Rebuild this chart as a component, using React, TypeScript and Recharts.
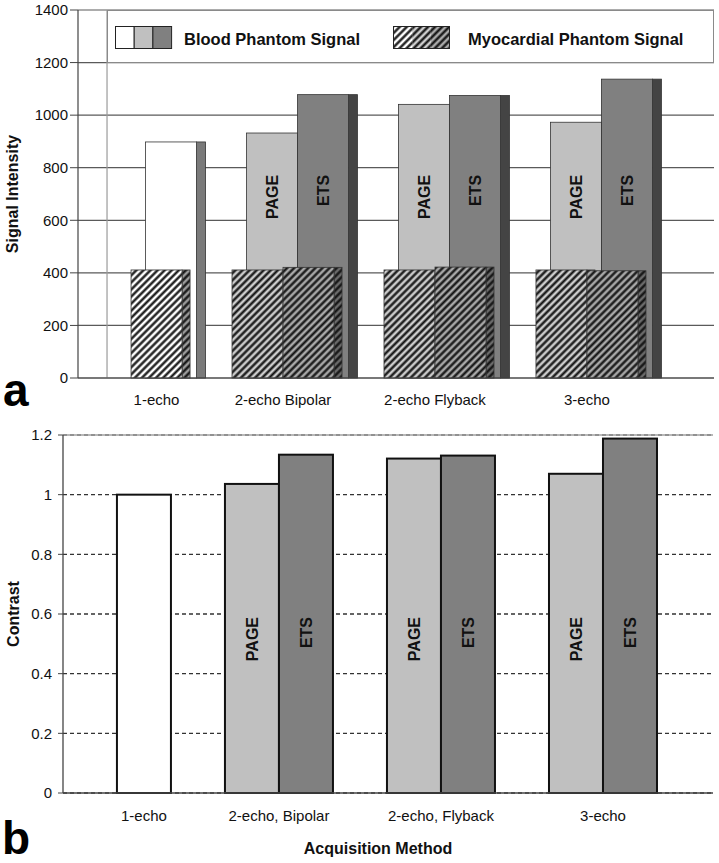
import { BarChart, Bar, XAxis, YAxis, CartesianGrid, Legend, ReferenceLine } from 'recharts'

const FONT = '"Liberation Sans", Arial, Helvetica, sans-serif'

const signalCategories = ['1-echo', '2-echo Bipolar', '2-echo Flyback', '3-echo']
const contrastCategories = ['1-echo', '2-echo, Bipolar', '2-echo, Flyback', '3-echo']

// 1-echo has a single acquisition, the others compare PAGE vs ETS
const bloodOneEcho = [898, null, null, null]
const bloodPage = [null, 932, 1041, 973]
const bloodEts = [null, 1078, 1075, 1137]
const myoOneEcho = [411, null, null, null]
const myoPage = [null, 411, 411, 411]
const myoEts = [null, 421, 422, 408]

const contrastOneEcho = [1.0, null, null, null]
const contrastPage = [null, 1.036, 1.121, 1.07]
const contrastEts = [null, 1.134, 1.131, 1.188]

const signalTicks = [0, 200, 400, 600, 800, 1000, 1200, 1400]
const contrastTicks = [0, 0.2, 0.4, 0.6, 0.8, 1, 1.2]
const catTicks = [0, 1, 2, 3]

// where the rotated PAGE / ETS labels end (in data units)
const SIGNAL_LABEL_AT = 773
const CONTRAST_LABEL_AT = 0.59

// numeric category axes, myocardial layer sits in front of the blood layer
const SIGNAL_DOMAIN: [number, number] = [-0.349, 3.836]
const DEPTH = 0.095
const BLOOD_DOMAIN: [number, number] = [SIGNAL_DOMAIN[0] - DEPTH, SIGNAL_DOMAIN[1] - DEPTH]
const WALL = -0.158
const CONTRAST_DOMAIN: [number, number] = [-0.333, 3.679]

const WHITE = '#ffffff'
const LIGHT = '#c0c0c0'
const DARK = '#808080'
const SIDE = 9
const SIGNAL_BAR = 51
const CONTRAST_BAR = 54

const signalRows = signalCategories.map((name, i) => {
  const single = bloodPage[i] == null
  return {
    pos: i,
    name,
    single,
    bloodL: bloodPage[i],
    bloodR: single ? bloodOneEcho[i] : bloodEts[i],
    myoL: myoPage[i],
    myoR: single ? myoOneEcho[i] : myoEts[i],
  }
})

const contrastRows = contrastCategories.map((name, i) => {
  const single = contrastPage[i] == null
  return {
    pos: i,
    name,
    single,
    left: contrastPage[i],
    right: single ? contrastOneEcho[i] : contrastEts[i],
  }
})

function Hatch({ id, bg }: { id: string; bg: string }) {
  return (
    <pattern id={id} patternUnits="userSpaceOnUse" width={5} height={5} patternTransform="rotate(45)">
      <rect width={5} height={5} fill={bg} />
      <line x1={2.5} y1={0} x2={2.5} y2={5} stroke="#111" strokeWidth={2.3} />
    </pattern>
  )
}

function rotatedLabel(text: string, cx: number, y: number) {
  return (
    <text
      transform={`translate(${cx},${y}) rotate(-90)`}
      textAnchor="end"
      dy="0.36em"
      fontSize={16}
      fontWeight="bold"
      fill="#111"
    >
      {text}
    </text>
  )
}

function solid3D(p: any, slot: 'L' | 'R') {
  const { x, y, width, height, payload } = p
  const v = slot === 'L' ? payload.bloodL : payload.bloodR
  if (v == null || !(height > 0)) return null
  const face = payload.single ? WHITE : slot === 'L' ? LIGHT : DARK
  const side = payload.single ? '#7a7a7a' : slot === 'L' ? '#9a9a9a' : '#444'
  const label = payload.single ? null : slot === 'L' ? 'PAGE' : 'ETS'
  const ly = y + height - (height * SIGNAL_LABEL_AT) / v
  return (
    <g>
      <rect x={x + width} y={y} width={SIDE} height={height} fill={side} stroke="#333" strokeWidth={0.8} />
      <rect x={x} y={y} width={width} height={height} fill={face} stroke="#333" strokeWidth={0.8} />
      {label && rotatedLabel(label, x + width / 2 + 0.5, ly)}
    </g>
  )
}

function hatch3D(p: any, slot: 'L' | 'R') {
  const { x, y, width, height, payload } = p
  const v = slot === 'L' ? payload.myoL : payload.myoR
  if (v == null || !(height > 0)) return null
  const face = payload.single ? 'url(#hatchWhite)' : slot === 'L' ? 'url(#hatchLight)' : 'url(#hatchMid)'
  const side = slot === 'R' && !payload.single ? 'url(#hatchSideDark)' : 'url(#hatchSideLight)'
  return (
    <g>
      <rect x={x + width} y={y} width={SIDE - 1} height={height} fill={side} stroke="#333" strokeWidth={0.8} />
      <rect x={x} y={y} width={width} height={height} fill={face} stroke="#333" strokeWidth={0.8} />
    </g>
  )
}

function flatBar(p: any, slot: 'L' | 'R') {
  const { x, y, width, height, payload } = p
  const v = slot === 'L' ? payload.left : payload.right
  if (v == null || !(height > 0)) return null
  const face = payload.single ? WHITE : slot === 'L' ? LIGHT : DARK
  const label = payload.single ? null : slot === 'L' ? 'PAGE' : 'ETS'
  const ly = y + height - (height * CONTRAST_LABEL_AT) / v
  return (
    <g>
      <rect x={x} y={y} width={width} height={height} fill={face} stroke="#111" strokeWidth={2} />
      {label && rotatedLabel(label, x + width / 2, ly)}
    </g>
  )
}

// single-bar categories get their label centred under that bar
const categoryTick = (names: string[], page: (number | null)[], barSize: number) => (p: any) => {
  const i = p.payload.value as number
  const dx = page[i] == null ? barSize / 2 : 0
  return (
    <text x={p.x + dx} y={p.y} dy="0.71em" textAnchor="middle" fontSize={15} fill="#111">
      {names[i]}
    </text>
  )
}

function SignalLegend() {
  return (
    <div style={{ width: 607, height: 53, boxSizing: 'border-box', border: '1px solid #8a8a8a', background: '#fff' }}>
      <svg width={605} height={51} style={{ display: 'block', fontFamily: FONT }}>
        {[WHITE, LIGHT, DARK].map((c, i) => (
          <rect key={c} x={7.5 + i * 18.7} y={15.5} width={18.7} height={22} fill={c} stroke="#222" strokeWidth={1} />
        ))}
        <text x={76} y={34} fontSize={16.5} fontWeight="bold" fill="#111">
          Blood Phantom Signal
        </text>
        {['url(#hatchWhite)', 'url(#hatchLight)', 'url(#hatchMid)'].map((c, i) => (
          <rect key={c} x={285.5 + i * 18.7} y={15.5} width={18.7} height={22} fill={c} strokeWidth={0} />
        ))}
        <rect x={285.5} y={15.5} width={56} height={22} fill="none" stroke="#222" strokeWidth={1} />
        <text x={360} y={34} fontSize={16.5} fontWeight="bold" fill="#111">
          Myocardial Phantom Signal
        </text>
      </svg>
    </div>
  )
}

const bigLetter = {
  position: 'absolute' as const,
  fontSize: 46,
  fontWeight: 'bold' as const,
  lineHeight: '36px',
  height: 36,
  color: '#000',
}

export default function App() {
  return (
    <div style={{ position: 'relative', width: 719, height: 863, fontFamily: FONT, background: '#fff', overflow: 'hidden' }}>
      <style>{'body{margin:0}'}</style>

      <div style={{ position: 'absolute', left: 0, top: 0 }}>
        <BarChart
          width={719}
          height={420}
          data={signalRows}
          margin={{ top: 10, right: 5, bottom: 12, left: 12 }}
          barGap={0}
        >
          <defs>
            <Hatch id="hatchWhite" bg="#ffffff" />
            <Hatch id="hatchLight" bg="#cccccc" />
            <Hatch id="hatchMid" bg="#a8a8a8" />
            <Hatch id="hatchSideLight" bg="#9a9a9a" />
            <Hatch id="hatchSideDark" bg="#6a6a6a" />
          </defs>
          <CartesianGrid vertical={false} stroke="#5a5a5a" strokeWidth={1.2} />
          <XAxis
            dataKey="pos"
            type="number"
            domain={SIGNAL_DOMAIN}
            allowDataOverflow
            ticks={catTicks}
            interval={0}
            height={30}
            tickSize={0}
            tickMargin={16}
            tickLine={false}
            axisLine={{ stroke: '#444', strokeWidth: 1.2 }}
            tick={categoryTick(signalCategories, bloodPage, SIGNAL_BAR)}
          />
          <XAxis
            xAxisId="blood"
            dataKey="pos"
            type="number"
            domain={BLOOD_DOMAIN}
            allowDataOverflow
            ticks={catTicks}
            hide
          />
          <YAxis
            domain={[0, 1400]}
            ticks={signalTicks}
            interval={0}
            width={66}
            tickSize={8}
            tickMargin={2}
            tick={{ fontSize: 15, fill: '#111' }}
            tickLine={{ stroke: '#444' }}
            axisLine={{ stroke: '#444', strokeWidth: 1.2 }}
            label={{
              value: 'Signal Intensity',
              angle: -90,
              position: 'insideLeft',
              offset: 0,
              style: { textAnchor: 'middle', fontWeight: 'bold', fontSize: 16, fill: '#111' },
            }}
          />
          <YAxis
            yAxisId="right"
            orientation="right"
            width={0}
            domain={[0, 1]}
            tick={false}
            tickLine={false}
            axisLine={{ stroke: '#9a9a9a', strokeWidth: 1.2 }}
          />
          <ReferenceLine x={WALL} stroke="#9a9a9a" strokeWidth={1.2} />
          <Legend
            layout="horizontal"
            verticalAlign="middle"
            align="center"
            content={() => <SignalLegend />}
            wrapperStyle={{ left: 107, top: 10, width: 607, height: 53 }}
          />
          <Bar xAxisId="blood" dataKey="bloodL" barSize={SIGNAL_BAR} isAnimationActive={false} shape={(p: any) => solid3D(p, 'L')} />
          <Bar xAxisId="blood" dataKey="bloodR" barSize={SIGNAL_BAR} isAnimationActive={false} shape={(p: any) => solid3D(p, 'R')} />
          <Bar dataKey="myoL" barSize={SIGNAL_BAR} isAnimationActive={false} shape={(p: any) => hatch3D(p, 'L')} />
          <Bar dataKey="myoR" barSize={SIGNAL_BAR} isAnimationActive={false} shape={(p: any) => hatch3D(p, 'R')} />
        </BarChart>
      </div>

      <div style={{ position: 'absolute', left: 0, top: 420 }}>
        <BarChart
          width={719}
          height={443}
          data={contrastRows}
          margin={{ top: 15, right: 6, bottom: 0, left: 13 }}
          barGap={0}
        >
          <CartesianGrid vertical={false} stroke="#333" strokeDasharray="4 3" strokeWidth={1.3} />
          <ReferenceLine y={1.2} stroke="#a0a0a0" strokeWidth={1.3} />
          <XAxis
            dataKey="pos"
            type="number"
            domain={CONTRAST_DOMAIN}
            allowDataOverflow
            ticks={catTicks}
            interval={0}
            height={70}
            tickSize={0}
            tickMargin={17}
            tickLine={false}
            axisLine={{ stroke: '#444', strokeWidth: 1.3 }}
            tick={categoryTick(contrastCategories, contrastPage, CONTRAST_BAR)}
            label={{
              value: 'Acquisition Method',
              position: 'insideBottom',
              offset: 9,
              dx: -10,
              style: { fontWeight: 'bold', fontSize: 16, fill: '#111' },
            }}
          />
          <YAxis
            domain={[0, 1.2]}
            ticks={contrastTicks}
            interval={0}
            width={50}
            tickSize={5}
            tickMargin={6}
            tickFormatter={(v: number) => String(+v.toFixed(1))}
            tick={{ fontSize: 15, fill: '#111' }}
            tickLine={{ stroke: '#444' }}
            axisLine={{ stroke: '#444', strokeWidth: 1.3 }}
            label={{
              value: 'Contrast',
              angle: -90,
              position: 'insideLeft',
              offset: 0,
              style: { textAnchor: 'middle', fontWeight: 'bold', fontSize: 16, fill: '#111' },
            }}
          />
          <YAxis
            yAxisId="right"
            orientation="right"
            width={0}
            domain={[0, 1]}
            tick={false}
            tickLine={false}
            axisLine={{ stroke: '#a0a0a0', strokeWidth: 1.3 }}
          />
          <Bar dataKey="left" barSize={CONTRAST_BAR} isAnimationActive={false} shape={(p: any) => flatBar(p, 'L')} />
          <Bar dataKey="right" barSize={CONTRAST_BAR} isAnimationActive={false} shape={(p: any) => flatBar(p, 'R')} />
        </BarChart>
      </div>

      <div style={{ ...bigLetter, left: 3, top: 372 }}>a</div>
      <div style={{ ...bigLetter, left: 2, top: 820 }}>b</div>
    </div>
  )
}
